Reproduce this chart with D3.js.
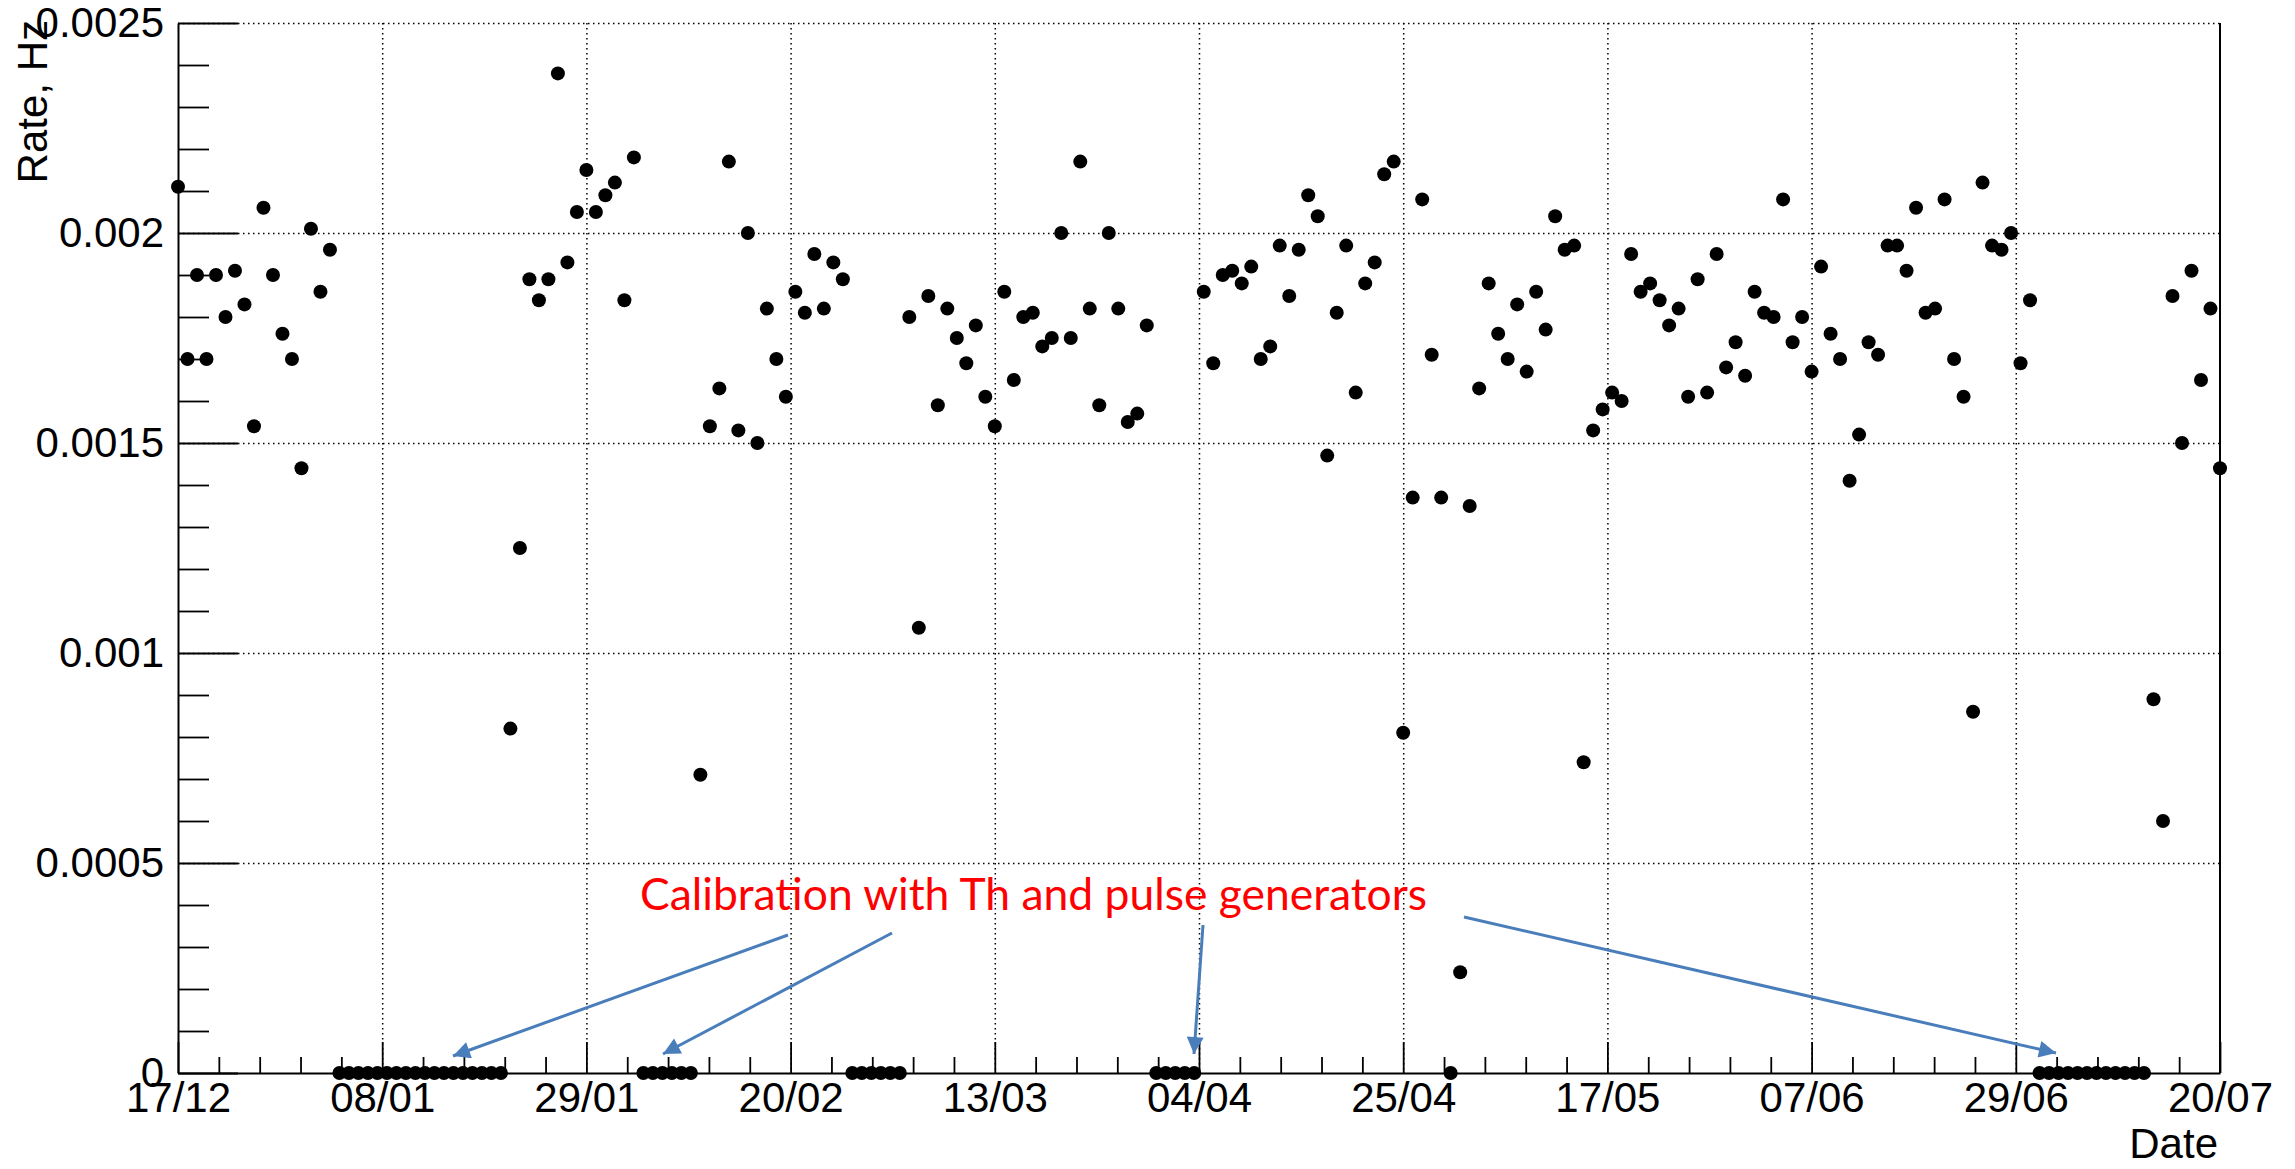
<!DOCTYPE html>
<meta charset="utf-8">
<style>
    body { margin: 0; background: #fff; }
    svg { display: block; }
    .lbl { font-family: "Liberation Sans", Arial, sans-serif; font-size: 42px; fill: #000; }
    .grid line { stroke: #000; stroke-width: 1.5; stroke-dasharray: 1.5, 3.5; }
    .grid path { display: none; }
    .ax path { stroke: #000; stroke-width: 2; }
    .ax line { stroke: #000; stroke-width: 1.8; }
</style>

<body>
    <svg width="2295" height="1169"></svg>
    <script src="https://d3js.org/d3.v7.min.js"></script>
    <script>
        // daily rate, Hz, starting 17/12 (one value per day)
        var rateDec = [0.00211, 0.00170, 0.00190, 0.00170, 0.00190, 0.00180, 0.00191, 0.00183, 0.00154, 0.00206,
            0.00190, 0.00176, 0.00170, 0.00144, 0.00201];
        var rateJan = [0.00186, 0.00196, 0, 0, 0, 0, 0, 0, 0, 0, 0, 0, 0, 0, 0, 0, 0, 0, 0, 0, 0.00082, 0.00125,
            0.00189, 0.00184, 0.00189, 0.00238, 0.00193, 0.00205, 0.00215, 0.00205, 0.00209];
        var rateFeb = [0.00212, 0.00184, 0.00218, 0, 0, 0, 0, 0, 0, 0.00071, 0.00154, 0.00163, 0.00217, 0.00153,
            0.00200, 0.00150, 0.00182, 0.00170, 0.00161, 0.00186, 0.00181, 0.00195, 0.00182, 0.00193, 0.00189, 0, 0, 0];
        var rateMar = [0, 0, 0, 0.00180, 0.00106, 0.00185, 0.00159, 0.00182, 0.00175, 0.00169, 0.00178, 0.00161,
            0.00154, 0.00186, 0.00165, 0.00180, 0.00181, 0.00173, 0.00175, 0.00200, 0.00175, 0.00217, 0.00182,
            0.00159, 0.00200, 0.00182, 0.00155, 0.00157, 0.00178, 0, 0];
        var rateApr = [0, 0, 0, 0.00186, 0.00169, 0.00190, 0.00191, 0.00188, 0.00192, 0.00170, 0.00173, 0.00197,
            0.00185, 0.00196, 0.00209, 0.00204, 0.00147, 0.00181, 0.00197, 0.00162, 0.00188, 0.00193, 0.00214,
            0.00217, 0.00081, 0.00137, 0.00208, 0.00171, 0.00137, 0];
        var rateMay = [0.00024, 0.00135, 0.00163, 0.00188, 0.00176, 0.00170, 0.00183, 0.00167, 0.00186, 0.00177,
            0.00204, 0.00196, 0.00197, 0.00074, 0.00153, 0.00158, 0.00162, 0.00160, 0.00195, 0.00186, 0.00188,
            0.00184, 0.00178, 0.00182, 0.00161, 0.00189, 0.00162, 0.00195, 0.00168, 0.00174, 0.00166];
        var rateJun = [0.00186, 0.00181, 0.00180, 0.00208, 0.00174, 0.00180, 0.00167, 0.00192, 0.00176, 0.00170,
            0.00141, 0.00152, 0.00174, 0.00171, 0.00197, 0.00197, 0.00191, 0.00206, 0.00181, 0.00182, 0.00208,
            0.00170, 0.00161, 0.00086, 0.00212, 0.00197, 0.00196, 0.00200, 0.00169, 0.00184];
        var rateJul = [0, 0, 0, 0, 0, 0, 0, 0, 0, 0, 0, 0, 0.00089, 0.00060, 0.00185, 0.00150, 0.00191, 0.00165,
            0.00182, 0.00144];

        var yTickValues = [0, 0.0005, 0.001, 0.0015, 0.002, 0.0025];
        var yTickLabels = ["0", "0.0005", "0.001", "0.0015", "0.002", "0.0025"];
        var xTickLabels = ["17/12", "08/01", "29/01", "20/02", "13/03", "04/04", "25/04", "17/05", "07/06", "29/06", "20/07"];

        var startDate = new Date(Date.UTC(2018, 11, 17, 12)),
            endDate = new Date(Date.UTC(2019, 6, 20, 12));

        var rates = [].concat(rateDec, rateJan, rateFeb, rateMar, rateApr, rateMay, rateJun, rateJul);
        var data = rates.map(function (v, i) {
            return { date: d3.utcDay.offset(startDate, i), rate: v };
        });

        var svg = d3.select("svg"),
            margin = { top: 23, right: 75, bottom: 96, left: 178 },
            width = +svg.attr("width") - margin.left - margin.right,
            height = +svg.attr("height") - margin.top - margin.bottom;

        var x = d3.scaleUtc().domain([startDate, endDate]).range([0, width]),
            y = d3.scaleLinear().domain([0, 0.0025]).range([height, 0]);

        // ROOT style time axis: 10 primary divisions, 5 secondary each
        var step = (endDate - startDate) / 10;
        var xMajor = d3.range(11).map(function (k) { return new Date(+startDate + k * step); });
        var xMinor = d3.range(51).filter(function (k) { return k % 5; })
            .map(function (k) { return new Date(+startDate + k * step / 5); });
        var yMinor = d3.range(26).filter(function (k) { return k % 5; })
            .map(function (k) { return k * 0.0001; });

        var g = svg.append("g")
            .attr("transform", "translate(" + margin.left + "," + margin.top + ")");

        // dotted grid
        g.append("g")
            .attr("class", "grid")
            .call(d3.axisBottom(x).tickValues(xMajor.slice(1, 10)).tickSize(height).tickFormat(""));
        g.append("g")
            .attr("class", "grid")
            .call(d3.axisLeft(y).tickValues(yTickValues.slice(1)).tickSize(-width).tickFormat(""));

        // x axis
        g.append("g")
            .attr("class", "ax lbl")
            .attr("transform", "translate(0," + height + ")")
            .call(d3.axisBottom(x).tickValues(xMajor).tickSizeInner(-31).tickSizeOuter(0).tickPadding(9)
                .tickFormat(function (d, i) { return xTickLabels[i]; }));
        g.append("g")
            .attr("class", "ax")
            .attr("transform", "translate(0," + height + ")")
            .call(d3.axisBottom(x).tickValues(xMinor).tickSize(-16).tickFormat(""))
            .select(".domain").remove();

        // y axis
        g.append("g")
            .attr("class", "ax lbl")
            .call(d3.axisLeft(y).tickValues(yTickValues).tickSizeInner(-60).tickSizeOuter(0).tickPadding(14)
                .tickFormat(function (d, i) { return yTickLabels[i]; }));
        g.append("g")
            .attr("class", "ax")
            .call(d3.axisLeft(y).tickValues(yMinor).tickSize(-31).tickFormat(""))
            .select(".domain").remove();

        svg.selectAll(".lbl text")
            .style("font-family", "'Liberation Sans', Arial, sans-serif")
            .style("font-size", "42px")
            .attr("fill", "#000");

        // right frame edge
        g.append("line")
            .attr("x1", width).attr("x2", width)
            .attr("y1", 0).attr("y2", height)
            .attr("stroke", "#000").attr("stroke-width", 2);

        // axis titles
        svg.append("text")
            .attr("class", "lbl")
            .attr("transform", "translate(47," + (margin.top - 3) + ") rotate(-90)")
            .attr("text-anchor", "end")
            .text("Rate, Hz");

        svg.append("text")
            .attr("class", "lbl")
            .attr("x", margin.left + width - 2)
            .attr("y", 1158)
            .attr("text-anchor", "end")
            .text("Date");

        // points
        g.selectAll(".dot")
            .data(data)
            .enter().append("circle")
            .attr("class", "dot")
            .attr("cx", function (d) { return x(d.date); })
            .attr("cy", function (d) { return y(d.rate); })
            .attr("r", 7)
            .attr("fill", "#000");

        // annotation
        var arrowColor = "#4a7ebb";
        svg.append("defs").append("marker")
            .attr("id", "head")
            .attr("viewBox", "0 0 10 10")
            .attr("refX", 10).attr("refY", 5)
            .attr("markerUnits", "userSpaceOnUse")
            .attr("markerWidth", 22).attr("markerHeight", 17)
            .attr("orient", "auto")
            .append("path")
            .attr("d", "M0,0L10,5L0,10z")
            .attr("fill", arrowColor);

        var arrows = [
            [788, 935, 453, 1056],
            [892, 933, 663, 1054],
            [1203, 925, 1194, 1054],
            [1464, 917, 2056, 1053]
        ];
        svg.selectAll(".arrow")
            .data(arrows)
            .enter().append("line")
            .attr("class", "arrow")
            .attr("x1", function (d) { return d[0]; })
            .attr("y1", function (d) { return d[1]; })
            .attr("x2", function (d) { return d[2]; })
            .attr("y2", function (d) { return d[3]; })
            .attr("stroke", arrowColor)
            .attr("stroke-width", 3)
            .attr("marker-end", "url(#head)");

        svg.append("text")
            .attr("x", 640)
            .attr("y", 910)
            .attr("textLength", 787)
            .attr("lengthAdjust", "spacingAndGlyphs")
            .style("font-family", "Lato, 'Open Sans', sans-serif")
            .style("font-size", "44px")
            .attr("fill", "#ff0000")
            .text("Calibration with Th and pulse generators");
    </script>
</body>
